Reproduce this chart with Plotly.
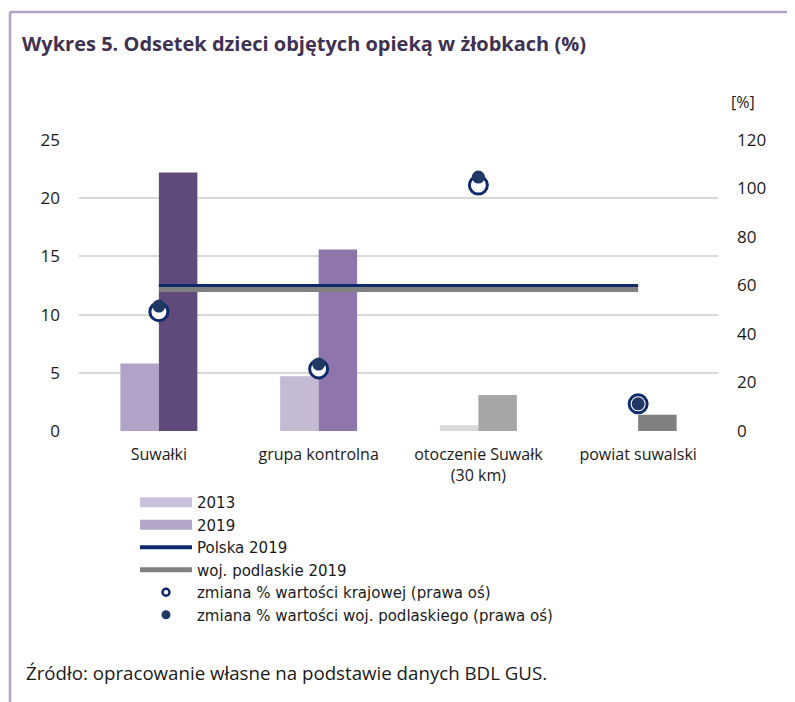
import plotly.graph_objects as go

categories = ["Suwałki", "grupa kontrolna", "otoczenie Suwałk<br>(30 km)", "powiat suwalski"]
v2013 = [5.8, 4.7, 0.5, 0.0]
v2019 = [22.2, 15.6, 3.1, 1.4]
polska_2019 = [12.5, 12.5, 12.5, 12.5]
podlaskie_2019 = [12.2, 12.2, 12.2, 12.2]
zmiana_kraj = [49.2, 25.6, 101.4, 11.2]
zmiana_podl = [51.5, 27.6, 104.7, 11.2]
left_ticks = [0, 5, 10, 15, 20, 25]
right_ticks = [0, 20, 40, 60, 80, 100, 120]

colors2013 = ["#b3a2c7", "#c5bad4", "#d9d9d9", "#d9d9d9"]
colors2019 = ["#604a7b", "#8e75ab", "#a6a6a6", "#808080"]
NAVY = "#0e2a6b"
DOT = "#1f3864"
GRAY = "#808080"
FONT = "Open Sans"
LFONT = "DejaVu Sans"
TXT = "#1a1a1a"

fig = go.Figure()
fig.add_trace(go.Bar(x=categories, y=v2013, name="2013", marker=dict(color=colors2013, line_width=0),
                     showlegend=False, legendgroup="2013", offsetgroup="a"))
fig.add_trace(go.Bar(x=categories, y=v2019, name="2019", marker=dict(color=colors2019, line_width=0),
                     showlegend=False, legendgroup="2019", offsetgroup="b"))
fig.add_trace(go.Scatter(x=categories, y=podlaskie_2019, name="woj. podlaskie 2019", mode="lines",
                         line=dict(color=GRAY, width=6), showlegend=False, legendgroup="podl"))
fig.add_trace(go.Scatter(x=categories, y=polska_2019, name="Polska 2019", mode="lines",
                         line=dict(color=NAVY, width=3), showlegend=False, legendgroup="pl"))
fig.add_trace(go.Scatter(x=categories, y=zmiana_kraj, name="zmiana % wartości krajowej (prawa oś)",
                         mode="markers", yaxis="y2",
                         marker=dict(symbol="circle", size=18, color="white", line=dict(color=NAVY, width=3)),
                         showlegend=False, legendgroup="zk"))
fig.add_trace(go.Scatter(x=categories, y=zmiana_podl, name="zmiana % wartości woj. podlaskiego (prawa oś)",
                         mode="markers", yaxis="y2",
                         marker=dict(symbol="circle", size=13, color=DOT, line=dict(width=0)),
                         showlegend=False, legendgroup="zp"))

# legend entries
fig.add_trace(go.Scatter(x=[None], y=[None], name="2013", mode="lines", legendgroup="2013",
                         line=dict(color="#ccc1da", width=10), legendrank=1))
fig.add_trace(go.Scatter(x=[None], y=[None], name="2019", mode="lines", legendgroup="2019",
                         line=dict(color="#b3a6c9", width=10), legendrank=2))
fig.add_trace(go.Scatter(x=[None], y=[None], name="Polska 2019", mode="lines", legendgroup="pl",
                         line=dict(color=NAVY, width=4), legendrank=3))
fig.add_trace(go.Scatter(x=[None], y=[None], name="woj. podlaskie 2019", mode="lines", legendgroup="podl",
                         line=dict(color=GRAY, width=5), legendrank=4))
fig.add_trace(go.Scatter(x=[None], y=[None], name="zmiana % wartości krajowej (prawa oś)", mode="markers",
                         legendgroup="zk", yaxis="y2",
                         marker=dict(symbol="circle", size=7, color="white", line=dict(color=NAVY, width=2.5)),
                         legendrank=5))
fig.add_trace(go.Scatter(x=[None], y=[None], name="zmiana % wartości woj. podlaskiego (prawa oś)",
                         mode="markers", legendgroup="zp", yaxis="y2",
                         marker=dict(symbol="circle", size=9, color=DOT, line=dict(width=0)),
                         legendrank=6))

# page offset of the plot div (body margin)
OFF = 8
W, H = 795, 702
PL, PR, PT, PB = 79, 718, 140, 431  # plot area on screen
L, T = PL - OFF, PT - OFF
R = W - (PR - OFF)
B = H - (PB - OFF)
pw, ph = PR - PL, PB - PT


def px(x):
    return (x - PL) / pw


def py(y):
    return (PB - y) / ph


fig.update_layout(
    width=W, height=H,
    margin=dict(l=L, r=R, t=T, b=B, pad=0),
    paper_bgcolor="white", plot_bgcolor="white",
    font=dict(family=FONT, size=16, color=TXT),
    barmode="group", bargap=0.518, bargroupgap=0,
    showlegend=True,
    legend=dict(x=px(135), y=py(486), xanchor="left", yanchor="top",
                font=dict(family=LFONT, size=15, color=TXT),
                itemwidth=52, itemsizing="trace", tracegroupgap=0,
                bgcolor="rgba(0,0,0,0)", borderwidth=0, traceorder="normal"),
    xaxis=dict(type="category", range=[-0.5, 3.5], showgrid=False, showline=False, zeroline=False,
               ticks="", ticklabelstandoff=12, tickfont=dict(size=16, color=TXT)),
    yaxis=dict(range=[0, 25], tickvals=left_ticks, showgrid=True, gridcolor="#d9d9d9", gridwidth=1.5,
               zeroline=False, showline=False, ticks="", ticklabelstandoff=18,
               tickfont=dict(size=17, color=TXT)),
    yaxis2=dict(range=[0, 120], tickvals=right_ticks, overlaying="y", side="right", showgrid=False,
                zeroline=False, showline=False, ticks="", ticklabelstandoff=18,
                tickfont=dict(size=17, color=TXT)),
    annotations=[
        dict(text="<b>Wykres 5. Odsetek dzieci objętych opieką w żłobkach (%)</b>", xref="paper", yref="paper",
             x=px(20), y=py(43), xanchor="left", yanchor="middle", showarrow=False,
             font=dict(family=FONT, size=20, color="#3f3151")),
        dict(text="[%]", xref="paper", yref="paper", x=px(729), y=py(102), xanchor="left", yanchor="middle",
             showarrow=False, font=dict(family=FONT, size=16, color=TXT)),
        dict(text="Źródło: opracowanie własne na podstawie danych BDL GUS.", xref="paper", yref="paper",
             x=px(24), y=py(672), xanchor="left", yanchor="middle", showarrow=False,
             font=dict(family=FONT, size=18.7, color=TXT)),
    ],
    shapes=[
        dict(type="line", xref="paper", yref="paper", x0=px(10), x1=px(810), y0=py(12), y1=py(12),
             line=dict(color="#b3a2c7", width=2.5)),
        dict(type="line", xref="paper", yref="paper", x0=px(10), x1=px(10), y0=py(12), y1=py(720),
             line=dict(color="#b3a2c7", width=2.5)),
    ],
)

fig.write_html("out.html")
